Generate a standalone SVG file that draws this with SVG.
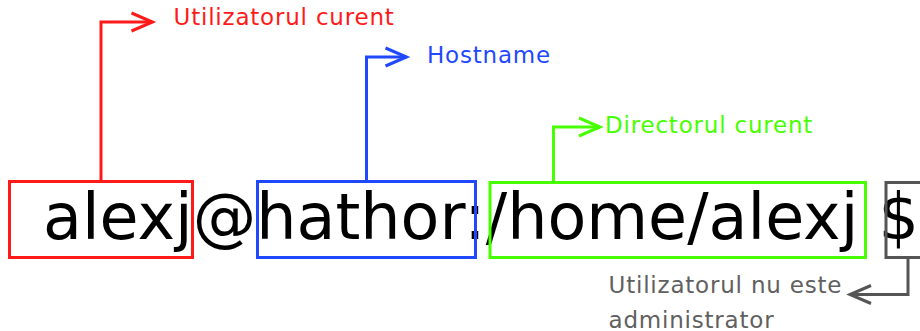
<svg xmlns="http://www.w3.org/2000/svg" width="920" height="331" viewBox="0 0 920 331">
  <style>
    .box { fill: none; stroke-width: 3; }
    .link { fill: none; stroke-width: 3; stroke-linejoin: miter; }
    .head { fill: none; stroke-width: 3; stroke-linecap: butt; stroke-linejoin: miter; }
    .note { font-family: "DejaVu Sans", "Liberation Sans", sans-serif; font-size: 23px; letter-spacing: 0.8px; }
    .prompt { font-family: "DejaVu Sans", "Liberation Sans", sans-serif; font-size: 63.5px; fill: #000; }
    .red { stroke: #ff1a1a; }
    .blue { stroke: #1f48ff; }
    .green { stroke: #48ff00; }
    .gray { stroke: #555555; }
  </style>
  <defs>
    <marker id="head-red" markerUnits="userSpaceOnUse" viewBox="-24 -12 28 24" markerWidth="28" markerHeight="24" refX="0" refY="0" orient="auto" overflow="visible">
      <path class="head red" d="M-21,-9 L0,0 L-21,9"/>
    </marker>
    <marker id="head-blue" markerUnits="userSpaceOnUse" viewBox="-24 -12 28 24" markerWidth="28" markerHeight="24" refX="0" refY="0" orient="auto" overflow="visible">
      <path class="head blue" d="M-21,-9 L0,0 L-21,9"/>
    </marker>
    <marker id="head-green" markerUnits="userSpaceOnUse" viewBox="-24 -12 28 24" markerWidth="28" markerHeight="24" refX="0" refY="0" orient="auto" overflow="visible">
      <path class="head green" d="M-21,-9 L0,0 L-21,9"/>
    </marker>
    <marker id="head-gray" markerUnits="userSpaceOnUse" viewBox="-24 -12 28 24" markerWidth="28" markerHeight="24" refX="0" refY="0" orient="auto" overflow="visible">
      <path class="head gray" d="M-21,-9 L0,0 L-21,9"/>
    </marker>
  </defs>

  <rect width="920" height="331" fill="#ffffff"/>

  <!-- the shell prompt itself -->
  <g id="prompt">
    <text class="prompt" x="43" y="239">alexj@hathor:/home/alexj $</text>
  </g>

  <!-- user name -->
  <g id="user">
    <rect class="box red" x="9.5" y="181.5" width="183" height="76"/>
    <text class="note" x="173.5" y="24.5" fill="#ff1a1a">Utilizatorul curent</text>
  </g>

  <!-- host name -->
  <g id="host">
    <rect class="box blue" x="257.5" y="181.5" width="218" height="76"/>
    <text class="note" x="427" y="62.5" fill="#1f48ff">Hostname</text>
  </g>

  <!-- working directory -->
  <g id="cwd">
    <rect class="box green" x="490" y="182.5" width="375.5" height="75"/>
    <text class="note" x="605" y="132.5" fill="#48ff00">Directorul curent</text>
  </g>

  <!-- prompt symbol -->
  <g id="symbol">
    <rect class="box gray" x="886" y="182.5" width="50" height="75"/>
    <text class="note" fill="#606060">
      <tspan x="608.5" y="292.5">Utilizatorul nu este</tspan>
      <tspan x="608.5" y="327.5">administrator</tspan>
    </text>
  </g>

  <g id="connectors">
    <path class="link red" d="M101,181 V22 H152.5" marker-end="url(#head-red)"/>
    <path class="link blue" d="M366.5,181 V57 H406.5" marker-end="url(#head-blue)"/>
    <path class="link green" d="M553.5,182 V127 H600" marker-end="url(#head-green)"/>
    <path class="link gray" d="M908,258 V294.5 H850" marker-end="url(#head-gray)"/>
  </g>
</svg>
